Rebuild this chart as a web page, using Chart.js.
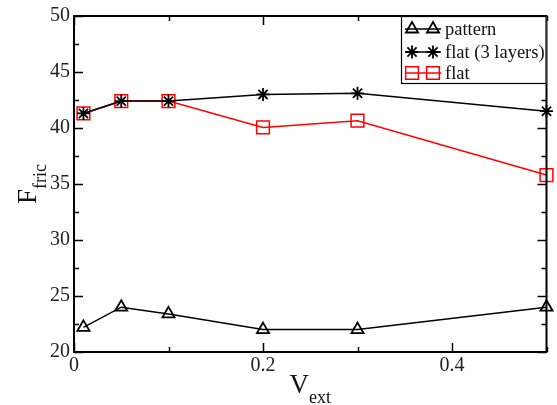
<!DOCTYPE html>
<html>
<head>
<meta charset="utf-8">
<script src="https://cdn.jsdelivr.net/npm/chart.js@4/dist/chart.umd.min.js"></script>
<style>
html,body{margin:0;padding:0;background:#fff;}
#wrap{width:557px;height:405px;position:relative;}
</style>
</head>
<body>
<div id="wrap"><canvas id="c" width="557" height="405"></canvas></div>
<script>
const vext = [0.01, 0.05, 0.1, 0.2, 0.3, 0.5];
const patternF = [22.2, 24.0, 23.4, 22.0, 22.0, 24.0];
const flat3F = [41.3, 42.4, 42.4, 43.0, 43.1, 41.5];
const flatF = [41.3, 42.4, 42.4, 40.05, 40.65, 35.8];
const xMajor = [0, 0.2, 0.4];
const xMinor = [0.1, 0.3, 0.5];
const yMajor = [20, 25, 30, 35, 40, 45, 50];
const yMinor = [22.5, 27.5, 32.5, 37.5, 42.5, 47.5];
const seriesNames = ['pattern', 'flat (3 layers)', 'flat'];

const SERIF = '"Liberation Serif", "DejaVu Serif", serif';

function pts(ys){ return vext.map((x,i)=>({x:x,y:ys[i]})); }

const frame = {
  id:'frame',
  afterDraw(chart){
    const ctx = chart.ctx, a = chart.chartArea, xs = chart.scales.x, ys = chart.scales.y;
    ctx.save();
    ctx.strokeStyle = '#000';
    ctx.lineWidth = 1.5;
    const tick = (v, len, axis) => {
      ctx.beginPath();
      if (axis==='x'){
        const p = Math.round(xs.getPixelForValue(v))+0.5;
        ctx.moveTo(p, a.bottom); ctx.lineTo(p, a.bottom-len);
        ctx.moveTo(p, a.top); ctx.lineTo(p, a.top+len);
      } else {
        const p = Math.round(ys.getPixelForValue(v))+0.5;
        ctx.moveTo(a.left, p); ctx.lineTo(a.left+len, p);
        ctx.moveTo(a.right, p); ctx.lineTo(a.right-len, p);
      }
      ctx.stroke();
    };
    xMajor.forEach(v=>tick(v,9,'x')); xMinor.forEach(v=>tick(v,5,'x'));
    yMajor.forEach(v=>tick(v,9,'y')); yMinor.forEach(v=>tick(v,5,'y'));
    ctx.lineWidth = 2;
    ctx.strokeRect(a.left, a.top, a.right-a.left, a.bottom-a.top);

    // axis titles
    ctx.fillStyle = '#111';
    ctx.textBaseline = 'alphabetic';
    ctx.textAlign = 'left';
    const big = '27px ' + SERIF, small = '18px ' + SERIF;
    ctx.font = big; const wV = ctx.measureText('V').width;
    ctx.font = small; const wE = ctx.measureText('ext').width;
    let cx = (a.left + a.right)/2 - (wV+wE)/2;
    ctx.font = big; ctx.fillText('V', cx, 393);
    ctx.font = small; ctx.fillText('ext', cx+wV, 403);
    ctx.font = big; const wF = ctx.measureText('F').width;
    ctx.font = small; const wR = ctx.measureText('fric').width;
    ctx.translate(36, (a.top+a.bottom)/2);
    ctx.rotate(-Math.PI/2);
    let sx = -(wF+wR)/2;
    ctx.font = big; ctx.fillText('F', sx, 0);
    ctx.font = small; ctx.fillText('fric', sx+wF, 10);
    ctx.restore();

    // legend
    ctx.save();
    const lx = 401, ly = a.top, lw = a.right - lx, lh = 68;
    ctx.fillStyle = '#fff';
    ctx.fillRect(lx, ly, lw, lh);
    ctx.strokeStyle = '#000'; ctx.lineWidth = 1.2;
    ctx.strokeRect(lx+0.5, ly+0.5, lw-1, lh-1);
    const rowsY = [ly+13, ly+36, ly+57];
    chart.data.datasets.forEach((ds, i) => {
      const y = rowsY[i];
      ctx.strokeStyle = ds.borderColor; ctx.lineWidth = ds.borderWidth;
      ctx.beginPath(); ctx.moveTo(405, y); ctx.lineTo(441, y); ctx.stroke();
      const opt = {pointStyle: ds.pointStyle, radius: ds.pointRadius, borderWidth: ds.pointBorderWidth, rotation: 0};
      ctx.strokeStyle = ds.borderColor; ctx.fillStyle = 'rgba(0,0,0,0)'; ctx.lineWidth = ds.pointBorderWidth;
      Chart.helpers.drawPoint(ctx, opt, 412, y);
      Chart.helpers.drawPoint(ctx, opt, 433, y);
      ctx.fillStyle = '#111';
      ctx.font = '18.5px ' + SERIF;
      ctx.textBaseline = 'middle'; ctx.textAlign = 'left';
      ctx.fillText(ds.label, 445, y+1);
    });
    ctx.restore();
  }
};

new Chart(document.getElementById('c'), {
  type: 'line',
  data: {
    datasets: [
      {label: seriesNames[0], data: pts(patternF), borderColor:'#000', backgroundColor:'rgba(0,0,0,0)', borderWidth:1.5,
       pointStyle:'triangle', pointRadius:7, pointBorderWidth:1.8, pointBackgroundColor:'rgba(0,0,0,0)', pointBorderColor:'#000'},
      {label: seriesNames[1], data: pts(flat3F), borderColor:'#000', backgroundColor:'rgba(0,0,0,0)', borderWidth:1.5,
       pointStyle:'star', pointRadius:6.5, pointBorderWidth:1.8, pointBackgroundColor:'rgba(0,0,0,0)', pointBorderColor:'#000'},
      {label: seriesNames[2], data: pts(flatF), borderColor:'#ff0000', backgroundColor:'rgba(0,0,0,0)', borderWidth:1.5,
       pointStyle:'rect', pointRadius:9, pointBorderWidth:1.5, pointBackgroundColor:'rgba(0,0,0,0)', pointBorderColor:'#ff0000'}
    ]
  },
  options: {
    responsive:false, animation:false, clip:false,
    layout:{padding:{top:15, right:3, left:0, bottom:0}},
    plugins:{legend:{display:false}, tooltip:{enabled:false}},
    elements:{line:{tension:0}},
    scales:{
      x:{type:'linear', min:0, max:0.5,
         afterBuildTicks(s){ s.ticks = xMajor.map(v=>({value:v})); },
         afterFit(s){ s.height = 53; },
         grid:{display:false, drawTicks:false}, border:{display:false},
         ticks:{padding:2, color:'#222', font:{family:SERIF, size:20}, maxRotation:0,
           callback:(v)=> v===0 ? '0' : String(v)}},
      y:{type:'linear', min:20, max:50,
         afterBuildTicks(s){ s.ticks = yMajor.map(v=>({value:v})); },
         afterFit(s){ s.width = 74; },
         grid:{display:false, drawTicks:false}, border:{display:false},
         ticks:{padding:4, color:'#222', font:{family:SERIF, size:20}}}
    }
  },
  plugins:[frame]
});
</script>
</body>
</html>
